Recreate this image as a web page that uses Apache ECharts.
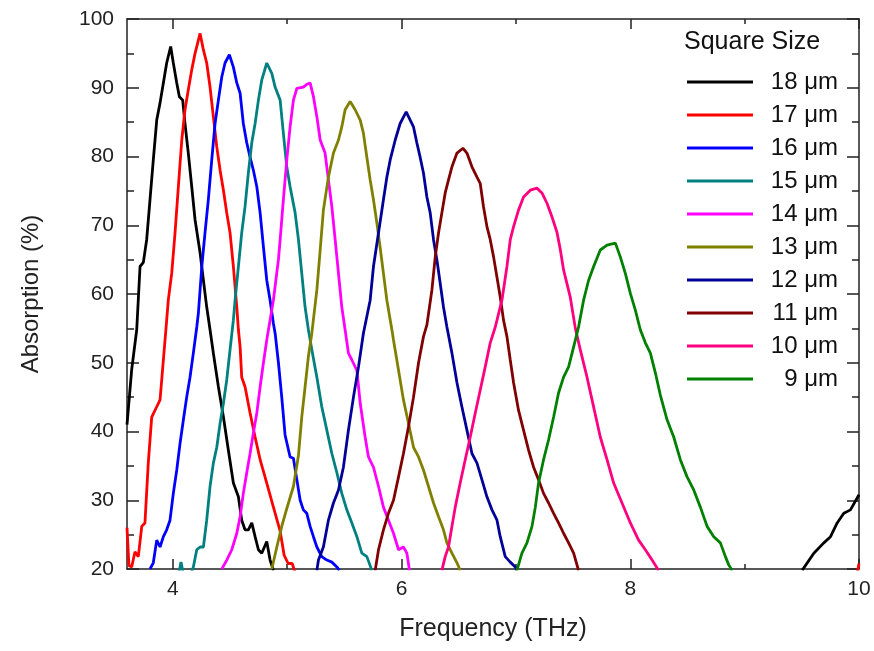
<!DOCTYPE html>
<html>
<head>
<meta charset="utf-8">
<script src="https://cdn.jsdelivr.net/npm/echarts@6/dist/echarts.min.js"></script>
<style>html,body{margin:0;padding:0;background:#fff;}#c{width:874px;height:651px;}</style>
</head>
<body>
<div id="c"></div>
<script>
// Frequency (THz), Absorption (%)
const s18 = [[3.600,41],[3.641,49],[3.685,54.8],[3.714,64],[3.743,64.6],[3.772,67.9],[3.801,73.7],[3.830,79.5],[3.860,85.3],[3.889,87.8],[3.918,90.7],[3.947,93.6],[3.982,96],[4.005,93.6],[4.035,90.7],[4.058,88.7],[4.087,88.2],[4.107,84.8],[4.136,80.5],[4.166,75.6],[4.195,70.8],[4.239,66],[4.268,62],[4.297,58.1],[4.326,54.8],[4.355,51.4],[4.399,46.5],[4.443,42.1],[4.486,37.3],[4.530,32.5],[4.574,30.5],[4.603,27.1],[4.632,25.7],[4.661,25.7],[4.691,26.7],[4.720,24.7],[4.749,22.8],[4.778,22.3],[4.822,24],[4.851,21.3],[4.880,19.8],[7.0,'-'],[9.503,19.8],[9.605,22.3],[9.692,23.8],[9.751,24.7],[9.809,26.7],[9.867,28.1],[9.925,28.6],[10.0,30.8]];
const s17 = [[3.600,26],[3.617,20.5],[3.641,20.3],[3.670,22.5],[3.699,21.8],[3.729,26.2],[3.757,26.7],[3.786,35.4],[3.816,42.1],[3.860,43.6],[3.889,44.6],[3.918,50.4],[3.947,56.2],[3.961,59.1],[3.991,63],[4.020,68.9],[4.049,75.6],[4.079,82.4],[4.107,86.8],[4.136,89.7],[4.166,92.6],[4.195,95],[4.239,97.9],[4.268,95.5],[4.297,93.6],[4.326,90.1],[4.355,85.8],[4.385,81.4],[4.414,78],[4.443,75.1],[4.472,71.8],[4.501,68.9],[4.530,64],[4.560,58.1],[4.574,54.8],[4.589,52.3],[4.603,47.9],[4.632,46.5],[4.676,42.7],[4.720,39.2],[4.764,35.9],[4.822,32.5],[4.880,29],[4.939,25.5],[4.974,22],[5.009,20.8],[5.044,20.8],[5.070,19.5],[7.5,'-'],[9.985,19.5],[10.0,20.8]];
const s16 = [[3.801,20],[3.830,20.9],[3.860,24.2],[3.889,23.2],[3.918,24.7],[3.947,25.7],[3.976,27.1],[4.005,31],[4.035,34.4],[4.064,38.3],[4.093,41.7],[4.122,45],[4.151,47.9],[4.180,51.4],[4.210,55.2],[4.224,57.2],[4.254,64],[4.282,68.9],[4.311,73.7],[4.341,79.5],[4.370,84.8],[4.399,88.2],[4.429,91.6],[4.457,93.6],[4.495,94.8],[4.530,93],[4.560,90.7],[4.589,89.2],[4.617,84.8],[4.647,82],[4.676,79.9],[4.705,78],[4.735,75.6],[4.764,71.8],[4.793,66.8],[4.822,62],[4.851,59.1],[4.880,55.7],[4.895,54.3],[4.924,50],[4.953,45],[4.982,39.5],[5.026,36.3],[5.055,36.1],[5.085,33],[5.114,30],[5.142,28.6],[5.172,28.1],[5.201,26.2],[5.230,24.7],[5.260,23.2],[5.303,21.8],[5.347,21.3],[5.391,21],[5.435,20.3],[5.457,19.8]];
const s15 = [[4.055,19.5],[4.072,21],[4.090,19.5],[4.130,18.5],[4.170,19.8],[4.180,20.3],[4.210,22.8],[4.239,23.2],[4.268,23.2],[4.297,27.1],[4.326,32],[4.355,35.4],[4.385,37.7],[4.414,41.2],[4.443,44.1],[4.472,47.5],[4.501,51.9],[4.530,56.2],[4.545,59.1],[4.574,64],[4.603,68.9],[4.632,72.7],[4.661,77.6],[4.691,82],[4.720,84.8],[4.749,88.2],[4.778,91.1],[4.822,93.6],[4.866,92.1],[4.895,90.1],[4.939,88.2],[4.967,83.4],[4.997,78.5],[5.026,75.6],[5.070,71.8],[5.099,67.9],[5.128,63],[5.157,58.1],[5.186,54.8],[5.216,51.9],[5.260,47.9],[5.303,43.6],[5.347,40.2],[5.391,36.8],[5.435,34],[5.478,31],[5.522,28.6],[5.566,26.7],[5.610,24.7],[5.653,22.3],[5.697,21.8],[5.741,19.8]];
const s14 = [[4.429,20],[4.472,21.3],[4.516,22.8],[4.560,25.2],[4.589,27.6],[4.617,31],[4.647,34],[4.676,36.8],[4.705,39.8],[4.735,42.7],[4.764,46.5],[4.793,50],[4.822,53.3],[4.851,56.2],[4.880,59.1],[4.924,65],[4.939,67.9],[4.967,73.7],[4.997,79.5],[5.026,84.3],[5.055,88.2],[5.085,89.9],[5.099,90.1],[5.142,90.1],[5.172,90.5],[5.201,90.7],[5.230,88.7],[5.260,85.8],[5.289,82.4],[5.332,80.5],[5.361,76.6],[5.391,72.7],[5.420,67.9],[5.449,63],[5.478,58.1],[5.507,54.8],[5.536,51.4],[5.566,50.4],[5.610,48.9],[5.639,44.1],[5.682,39.2],[5.711,36.3],[5.755,34.8],[5.799,32],[5.842,29],[5.886,27.1],[5.930,25.2],[5.974,22.8],[6.017,23.2],[6.047,22.3],[6.070,19.8]];
const s13 = [[4.866,20],[4.910,23.2],[4.953,26.2],[4.997,28.8],[5.055,32],[5.099,36.5],[5.128,42.1],[5.157,46.5],[5.186,50.9],[5.216,54.3],[5.260,60.6],[5.289,66.4],[5.317,72.2],[5.361,77],[5.405,80.5],[5.449,82.4],[5.478,84.3],[5.507,86.8],[5.551,88],[5.595,86.8],[5.639,85.3],[5.667,83.4],[5.697,79.9],[5.726,76.6],[5.755,73.7],[5.785,70.3],[5.813,66.8],[5.842,63],[5.872,59.1],[5.916,54.8],[5.930,53.3],[5.974,48.9],[6.017,44.6],[6.061,41.2],[6.105,37.7],[6.149,36.3],[6.192,34.4],[6.236,32],[6.280,29.6],[6.324,27.6],[6.367,25.7],[6.397,23.8],[6.441,22.3],[6.485,20.9],[6.513,19.8]];
const s12 = [[5.260,19.8],[5.274,21.3],[5.317,23.2],[5.361,27.1],[5.405,29.6],[5.449,31.5],[5.492,34.8],[5.536,40.2],[5.580,45],[5.624,49.4],[5.667,54.3],[5.726,59.1],[5.755,64],[5.799,68.9],[5.842,73.7],[5.872,77],[5.901,79.5],[5.945,82.4],[5.988,84.8],[6.041,86.5],[6.076,85.3],[6.105,84.3],[6.134,82],[6.163,79.9],[6.192,77.6],[6.222,74.1],[6.251,71.8],[6.280,67.9],[6.310,64.9],[6.338,61.6],[6.367,58.1],[6.397,55.2],[6.441,51.4],[6.485,47.1],[6.528,43.6],[6.572,40.2],[6.616,36.8],[6.660,35.4],[6.703,33],[6.747,30.5],[6.791,28.6],[6.835,27.1],[6.863,24.7],[6.907,21.8],[6.951,21],[6.995,20.3],[7.009,19.8]];
const s11 = [[5.770,19.8],[5.799,22.8],[5.842,25.7],[5.886,28.1],[5.930,30],[5.974,33.4],[6.017,36.8],[6.061,40.7],[6.105,45],[6.149,50],[6.192,53.8],[6.222,55.5],[6.266,60.6],[6.295,65.4],[6.324,68.9],[6.353,71.8],[6.382,74.7],[6.411,76.6],[6.441,78.5],[6.485,80.5],[6.537,81.2],[6.572,80.5],[6.616,78.5],[6.660,77],[6.688,76.1],[6.717,72.7],[6.747,69.8],[6.776,67.9],[6.805,65.4],[6.834,62.5],[6.863,59.6],[6.892,56.2],[6.922,53.8],[6.951,50.4],[6.980,47.1],[7.023,43.1],[7.067,40.2],[7.111,37.3],[7.155,34.8],[7.198,33],[7.242,31],[7.286,29.6],[7.330,28.1],[7.373,26.7],[7.417,25.2],[7.461,23.8],[7.505,22.3],[7.548,19.8]];
const s10 = [[6.353,19.8],[6.382,21.8],[6.411,23.2],[6.441,26.2],[6.470,29],[6.513,32.5],[6.557,35.9],[6.601,39.2],[6.645,42.7],[6.688,46],[6.732,49.4],[6.776,52.9],[6.820,55.2],[6.878,59.1],[6.922,64],[6.951,67.9],[6.980,69.8],[7.023,72.2],[7.067,74.1],[7.126,75.1],[7.184,75.4],[7.228,74.7],[7.272,73.2],[7.316,71.2],[7.359,69],[7.388,66.5],[7.417,63.5],[7.476,59.5],[7.520,55],[7.563,51.9],[7.622,47.9],[7.666,44.6],[7.738,39.2],[7.797,35.9],[7.855,32.5],[7.928,29.6],[8.001,26.7],[8.073,24.2],[8.132,22.8],[8.191,21.3],[8.248,19.8]];
const s9 = [[7.009,19.8],[7.053,22.3],[7.097,23.8],[7.141,26.2],[7.170,29],[7.198,32.5],[7.242,35.9],[7.286,38.8],[7.330,42.1],[7.373,45.6],[7.417,47.9],[7.461,49.4],[7.505,52.3],[7.548,55.2],[7.592,59.1],[7.636,62],[7.680,64],[7.738,66.4],[7.797,67.1],[7.870,67.4],[7.913,65.4],[7.957,63],[8.001,60.1],[8.044,57.7],[8.088,54.8],[8.132,52.9],[8.176,51.4],[8.220,48.5],[8.263,45.3],[8.322,41.7],[8.380,39.2],[8.438,35.9],[8.497,33.4],[8.555,31.5],[8.613,29],[8.672,26.2],[8.730,24.7],[8.788,23.8],[8.832,21.8],[8.861,20.6],[8.891,19.8]];

const seriesNames = ['18 μm','17 μm','16 μm','15 μm','14 μm','13 μm','12 μm','11 μm','10 μm','9 μm'];
const seriesData = [s18,s17,s16,s15,s14,s13,s12,s11,s10,s9];
const seriesColors = ['#000000','#ff0000','#0000ff','#008080','#ff00ff','#808000','#000099','#800000','#ff0080','#008000'];

const xMajor = [4,6,8,10];
const xMinor = [5,7,9];

const axisColor = '#222';
const font = 'Liberation Sans, Arial, sans-serif';

function xAxisDef(pos, ticks, len, withLine, withLabel, withName) {
  return {
    type:'value', position:pos, min:3.6, max:10, gridIndex:0,
    axisLine:{show:withLine, onZero:false, lineStyle:{color:axisColor, width:1.5}},
    axisTick:{show:true, inside:true, length:len, customValues:ticks, lineStyle:{color:axisColor, width:1.5}},
    axisLabel:{show:withLabel, customValues:ticks, margin:10, fontSize:21, color:'#222', fontFamily:font},
    splitLine:{show:false},
    name: withName ? 'Frequency (THz)' : '',
    nameLocation:'middle', nameGap:48,
    nameTextStyle:{fontSize:25, color:'#222', fontFamily:font}
  };
}
function yAxisDef(pos, withLabel, withName) {
  return {
    type:'value', position:pos, min:20, max:100, interval:10,
    axisLine:{show:true, onZero:false, lineStyle:{color:axisColor, width:1.5}},
    axisTick:{show:true, inside:true, length:12, lineStyle:{color:axisColor, width:1.5}},
    minorTick:{show:true, splitNumber:2, length:7, lineStyle:{color:axisColor, width:1.5}},
    axisLabel:{show:withLabel, margin:13, fontSize:21, color:'#222', fontFamily:font},
    splitLine:{show:false}, minorSplitLine:{show:false},
    name: withName ? 'Absorption (%)' : '',
    nameLocation:'middle', nameGap:84, nameRotate:90,
    nameTextStyle:{fontSize:24, color:'#222', fontFamily:font}
  };
}

const chart = echarts.init(document.getElementById('c'), null, {renderer:'canvas'});
chart.setOption({
  animation:false,
  backgroundColor:'#fff',
  grid:{left:127, right:15, top:19, bottom:82, containLabel:false},
  title:{text:'Square Size', left:684, top:30, padding:0,
    textStyle:{fontSize:25, fontWeight:'normal', color:'#111', fontFamily:font, lineHeight:25}},
  legend:{
    orient:'vertical', left:687, top:70, padding:0,
    icon:'rect', itemWidth:66, itemHeight:2.8, itemGap:9,
    data:seriesNames,
    formatter: function(n){ return '{n|' + n + '}'; },
    textStyle:{color:'#111', fontFamily:font, fontSize:24,
      rich:{n:{width:80, align:'right', fontSize:24, lineHeight:23, fontFamily:font, color:'#111'}}}
  },
  xAxis:[
    xAxisDef('bottom', xMajor, 10, true, true, true),
    xAxisDef('bottom', xMinor, 5, false, false, false),
    xAxisDef('top', xMajor, 10, true, false, false),
    xAxisDef('top', xMinor, 5, false, false, false)
  ],
  yAxis:[
    yAxisDef('left', true, true),
    yAxisDef('right', false, false)
  ],
  series: seriesNames.map(function(n,i){
    return {
      name:n, type:'line', xAxisIndex:0, yAxisIndex:0,
      data:seriesData[i], symbol:'none', showSymbol:false, smooth:false,
      connectNulls:false, clip:true,
      lineStyle:{color:seriesColors[i], width:2.8},
      itemStyle:{color:seriesColors[i]}
    };
  })
});
</script>
</body>
</html>
